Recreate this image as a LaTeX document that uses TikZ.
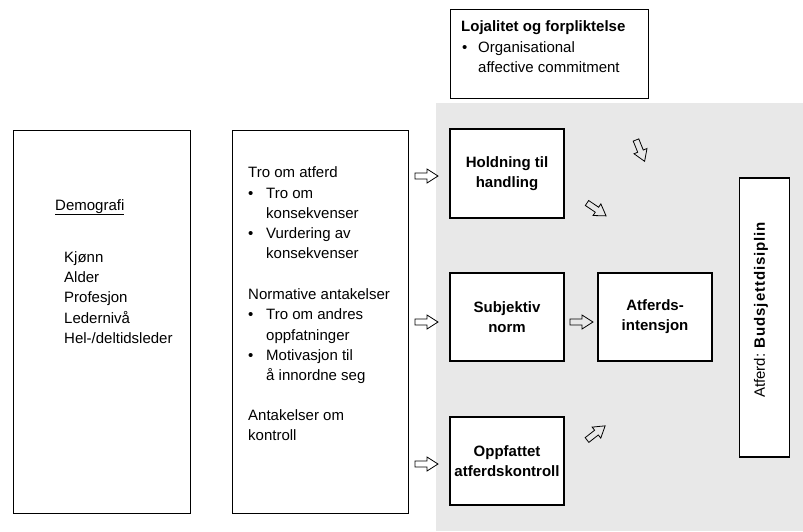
\documentclass[tikz,border=0pt]{standalone}
\usepackage{fontspec}
\setmainfont{Liberation Sans}
\definecolor{bggray}{RGB}{232,232,232}
\begin{document}
\begin{tikzpicture}[x=1pt,y=-1pt,
  txt/.style={inner sep=0pt, anchor=base west, font=\fontsize{15}{20.3}\selectfont},
  thinbox/.style={draw, line width=0.9pt, inner sep=0pt},
  boldbox/.style={draw, line width=1.8pt, fill=white, inner sep=0pt, align=center, minimum width=114pt, minimum height=88pt, font=\fontsize{15}{20}\selectfont\bfseries},
  blockarrow/.pic={\draw[line width=0.8pt, line join=miter] (0,-3) -- (12,-3) -- (12,-7) -- (23,0) -- (12,7) -- (12,3) -- (0,3) -- cycle;}
]
\useasboundingbox (0,0) rectangle (803,531);
\fill[bggray] (436,103) rectangle (803,531);

% left boxes
\node[thinbox, minimum width=177pt, minimum height=383pt] (demo) at (101.5,321.5) {};
\node[thinbox, minimum width=176pt, minimum height=383pt] (tro) at (320,321.5) {};

\node[txt] (d0) at (55,210) {\underline{Demografi}};
\node[txt] (d1) at (64,262) {Kjønn};
\node[txt] (d2) at (64,282) {Alder};
\node[txt] (d3) at (64,302.5) {Profesjon};
\node[txt] (d4) at (64,323) {Ledernivå};
\node[txt] (d5) at (64,343) {Hel-/deltidsleder};

\node[txt] (m1) at (248,177) {Tro om atferd};
\node[txt] (b1) at (248,198) {•};
\node[txt] (m2) at (266,198) {Tro om};
\node[txt] (m3) at (266,218) {konsekvenser};
\node[txt] (b2) at (248,238) {•};
\node[txt] (m4) at (266,238) {Vurdering av};
\node[txt] (m5) at (266,258) {konsekvenser};
\node[txt] (m6) at (248,299) {Normative antakelser};
\node[txt] (b3) at (248,319) {•};
\node[txt] (m7) at (266,319) {Tro om andres};
\node[txt] (m8) at (266,340) {oppfatninger};
\node[txt] (b4) at (248,360) {•};
\node[txt] (m9) at (266,360) {Motivasjon til};
\node[txt] (m10) at (266,380) {å innordne seg};
\node[txt] (m11) at (248,420) {Antakelser om};
\node[txt] (m12) at (248,440) {kontroll};

% top box
\node[thinbox, fill=white, minimum width=198pt, minimum height=89pt] (loj) at (549,53.5) {};
\node[txt] (l1) at (461,31) {\bfseries Lojalitet og forpliktelse};
\node[txt] (lb) at (462,52) {•};
\node[txt] (l2) at (478,52) {Organisational};
\node[txt] (l3) at (478,72) {affective commitment};

% model boxes
\node[boldbox, minimum height=89pt] (hold) at (507,173.5) {Holdning til\\handling};
\node[boldbox] (subj) at (507,317) {Subjektiv\\norm};
\node[boldbox] (int) at (655,317) {Atferds-\\intensjon};
\node[boldbox] (opp) at (507,461) {Oppfattet\\atferdskontroll};

\node[draw, line width=1.8pt, fill=white, inner sep=0pt, minimum width=50pt, minimum height=279pt] (atf) at (764.5,317.5) {};
\node[rotate=90, inner sep=0pt, font=\fontsize{15}{18}\selectfont] (atft) at (761,310) {Atferd: {\bfseries\addfontfeature{LetterSpace=6}Budsjettdisiplin}};

% arrows
\pic at (415,176) {blockarrow};
\pic at (415,322) {blockarrow};
\pic at (415,464) {blockarrow};
\pic at (570,322) {blockarrow};
\pic[rotate=-68] at (636,140) {blockarrow};
\pic[rotate=-34] at (587,203) {blockarrow};
\pic[rotate=38] at (587,440) {blockarrow};
\end{tikzpicture}
\end{document}
